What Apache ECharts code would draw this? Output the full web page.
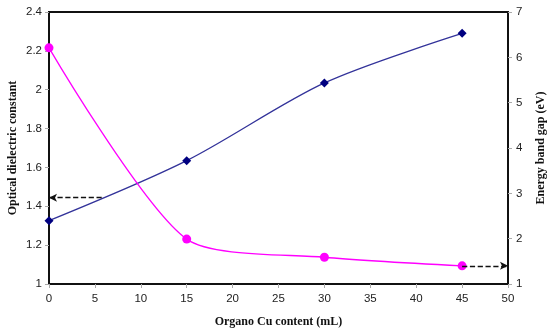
<!DOCTYPE html>
<html><head><meta charset="utf-8">
<script src="https://cdn.jsdelivr.net/npm/echarts@6/dist/echarts.min.js"></script>
<style>html,body{margin:0;padding:0;background:#fff}#c{width:550px;height:335px}</style>
</head><body><div id="c"></div>
<script>
const xValues = [0, 15, 30, 45];
const dielectric = [1.326, 1.635, 2.035, 2.29];
const bandGap = [6.21, 1.99, 1.59, 1.40];
const leftArrow = [[5.74, 1.444], [0, 1.444]];
const rightArrow = [[45, 1.40], [50, 1.40]];

const chart = echarts.init(document.getElementById('c'));
const tickFont = {fontFamily: 'Liberation Sans', fontSize: 11.5, color: '#222'};
const titleFont = {fontFamily: 'Liberation Serif', fontSize: 12, fontWeight: 'bold', color: '#111'};
chart.setOption({
  animation: false,
  grid: {left: 49, right: 42, top: 12, bottom: 51, show: true, borderColor: '#111', borderWidth: 2,
         containLabel: false, outerBoundsMode: 'none'},
  xAxis: {
    type: 'value', min: 0, max: 50, interval: 5,
    name: 'Organo Cu content (mL)', nameLocation: 'middle', nameGap: 32, nameTextStyle: titleFont,
    axisLine: {show: true, lineStyle: {color: '#111', width: 2}},
    axisTick: {show: true, length: 4, lineStyle: {color: '#aaa'}},
    axisLabel: Object.assign({margin: 9}, tickFont),
    splitLine: {show: false}
  },
  yAxis: [{
    type: 'value', min: 1, max: 2.4, interval: 0.2,
    name: 'Optical dielectric constant', nameLocation: 'middle', nameGap: 30, nameMoveOverlap: false,
    nameTextStyle: titleFont,
    axisLine: {show: true, lineStyle: {color: '#111', width: 2}},
    axisTick: {show: true, length: 4, lineStyle: {color: '#aaa'}},
    axisLabel: Object.assign({margin: 7, formatter: v => String(Math.round(v*10)/10)}, tickFont),
    splitLine: {show: false}
  }, {
    type: 'value', min: 1, max: 7, interval: 1, position: 'right',
    name: 'Energy band gap (eV)', nameLocation: 'middle', nameGap: 27, nameMoveOverlap: false,
    nameRotate: 90, nameTextStyle: titleFont,
    axisLine: {show: true, lineStyle: {color: '#111', width: 2}},
    axisTick: {show: true, length: 4, lineStyle: {color: '#aaa'}},
    axisLabel: Object.assign({margin: 8}, tickFont),
    splitLine: {show: false}
  }],
  series: [{
    type: 'line', yAxisIndex: 0, smooth: 0.3,
    data: xValues.map((x, i) => [x, dielectric[i]]),
    symbol: 'diamond', symbolSize: 9,
    itemStyle: {color: '#000080'},
    lineStyle: {color: '#33339a', width: 1.3},
    markLine: {
      silent: true, symbol: ['none', 'arrow'], symbolSize: [6, 8],
      lineStyle: {type: 'dashed', color: '#111', width: 1.3}, label: {show: false},
      data: [[{coord: leftArrow[0]}, {coord: leftArrow[1]}]]
    }
  }, {
    type: 'line', yAxisIndex: 1, smooth: 0.25,
    data: xValues.map((x, i) => [x, bandGap[i]]),
    symbol: 'circle', symbolSize: 9,
    itemStyle: {color: '#ff00ff'},
    lineStyle: {color: '#ff00ff', width: 1.3},
    markLine: {
      silent: true, symbol: ['none', 'arrow'], symbolSize: [6, 8],
      lineStyle: {type: 'dashed', color: '#111', width: 1.3}, label: {show: false},
      data: [[{coord: rightArrow[0]}, {coord: rightArrow[1]}]]
    }
  }]
});
</script></body></html>
